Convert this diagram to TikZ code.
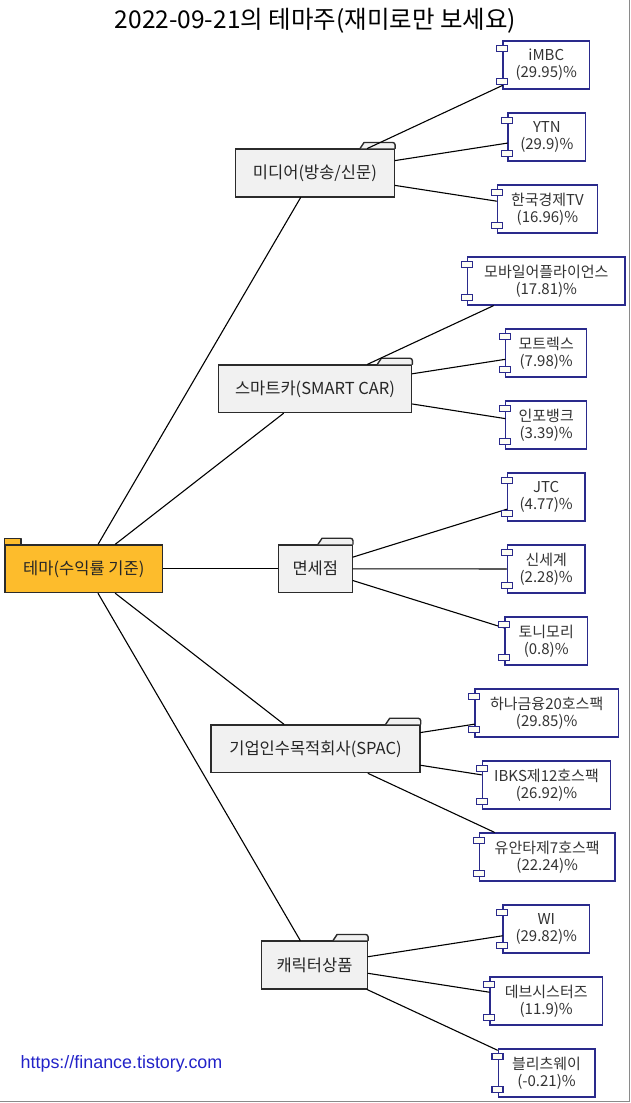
\documentclass[tikz,border=0pt]{standalone}
\usepackage{fontspec}
\setmainfont{Noto Sans CJK KR}
\newfontfamily\urlfont{Liberation Sans}

\definecolor{pkgfill}{HTML}{F1F1F1}
\definecolor{pkgline}{HTML}{2B2B2B}
\definecolor{rootfill}{HTML}{FDBC2C}
\definecolor{compline}{HTML}{2A2A8C}
\definecolor{portfill}{HTML}{FEFEF4}
\definecolor{urlblue}{HTML}{2222C8}
\definecolor{framegray}{HTML}{8A8A8A}

\tikzset{
  pkg/.style={draw=pkgline, fill=pkgfill, line width=1.4pt, inner sep=0pt,
    text=black!85, minimum height=47.7pt, minimum width=#1,
    font=\fontsize{16.5}{19}\selectfont},
  rootpkg/.style={pkg=#1, fill=rootfill},
  pkgtab/.style={draw=pkgline, fill=pkgfill, line width=1.4pt, line join=round},
  comp/.style={draw=compline, fill=white, line width=1.4pt, inner sep=0pt,
    text=black!80, minimum height=48pt, minimum width=#1, align=center,
    font=\fontsize{15}{17}\selectfont},
  port/.style={draw=compline, fill=portfill, line width=1.1pt},
  link/.style={draw=black, line width=1.1pt},
}

\begin{document}
\begin{tikzpicture}[x=1pt, y=-1pt, line cap=round]

  \useasboundingbox (0,0) rectangle (631,1103);

  % title and footer
  \node (title) at (315.5,21) {\fontsize{24.5}{27}\selectfont 2022-09-21의 테마주(재미로만 보세요)};
  \node[text=urlblue] (url) at (121.5,1064) {\urlfont\fontsize{17.9}{20}\selectfont https://finance.tistory.com};

  % root and themes (centres x = 315)
  \node[rootpkg=157.7pt] (root)  at (83.8,568.8)  {테마(수익률 기준)};
  \node[pkg=159pt]       (media) at (314.9,173)   {미디어(방송/신문)};
  \node[pkg=193.4pt]     (smart) at (315,388.8)   {스마트카(SMART CAR)};
  \node[pkg=74pt]        (duty)  at (315.3,568.8) {면세점};
  \node[pkg=209pt]       (spac)  at (315.5,748.8) {기업인수목적회사(SPAC)};
  \node[pkg=105.8pt]     (chara) at (314.5,965)   {캐릭터상품};

  % tabs
  \draw[pkgtab, fill=rootfill] (root.north west) rectangle ++(16.7,-5.7);
  \foreach \p in {media,smart,duty,spac,chara}
    \draw[pkgtab] ([xshift=-35pt]\p.north east) -- ++(4,-6)
      [rounded corners=2.5pt] -- ++(31,0) -- ++(0,6);

  % stocks, 72 apart
  \node[comp=86.5pt]  (imbc)      at (546.3,65)   {iMBC\\(29.95)\%};
  \node[comp=77.5pt]  (ytn)       at (546.8,137)  {YTN\\(29.9)\%};
  \node[comp=99.8pt]  (hkt)       at (547.4,209)  {한국경제TV\\(16.96)\%};
  \node[comp=157.3pt] (mobile)    at (546.3,281)  {모바일어플라이언스\\(17.81)\%};
  \node[comp=81pt]    (motrex)    at (546.2,353)  {모트렉스\\(7.98)\%};
  \node[comp=81pt]    (infobank)  at (546.2,425)  {인포뱅크\\(3.39)\%};
  \node[comp=77.7pt]  (jtc)       at (546.2,497)  {JTC\\(4.77)\%};
  \node[comp=77.7pt]  (shinsegae) at (546.2,569)  {신세계\\(2.28)\%};
  \node[comp=82.3pt]  (tonymoly)  at (546.2,641)  {토니모리\\(0.8)\%};
  \node[comp=143.3pt] (hana)      at (546.7,713)  {하나금융20호스팩\\(29.85)\%};
  \node[comp=128.4pt] (ibks)      at (546.5,785)  {IBKS제12호스팩\\(26.92)\%};
  \node[comp=135.7pt] (yuanta)    at (547.2,857)  {유안타제7호스팩\\(22.24)\%};
  \node[comp=86.5pt]  (wi)        at (546.3,929)  {WI\\(29.82)\%};
  \node[comp=112.4pt] (devsis)    at (546.2,1001) {데브시스터즈\\(11.9)\%};
  \node[comp=96.6pt]  (blitz)     at (546.5,1073) {블리츠웨이\\(-0.21)\%};

  % links
  \foreach \p in {media,smart,duty,spac,chara}
    \draw[link] (root) -- (\p);
  \draw[link] (media) -- (imbc);
  \draw[link] (media) -- (ytn);
  \draw[link] (media) -- (hkt);
  \draw[link] (smart) -- (mobile);
  \draw[link] (smart) -- (motrex);
  \draw[link] (smart) -- (infobank);
  \draw[link] (duty)  -- (jtc);
  \draw[link] (duty)  -- (shinsegae);
  \draw[link] (duty)  -- (tonymoly);
  \draw[link] (spac)  -- (hana);
  \draw[link] (spac)  -- (ibks);
  \draw[link] (spac)  -- (yuanta);
  \draw[link] (chara) -- (wi);
  \draw[link] (chara) -- (devsis);
  \draw[link] (chara) -- (blitz);

  % component ports
  \foreach \c in {imbc,ytn,hkt,mobile,motrex,infobank,jtc,shinsegae,tonymoly,
                  hana,ibks,yuanta,wi,devsis,blitz} {
    \draw[port] ([xshift=-5.5pt,yshift=-5pt]\c.north west) rectangle ++(11,6);
    \draw[port] ([xshift=-5.5pt,yshift=5pt]\c.south west) rectangle ++(11,-6);
  }

  % frame, right and bottom
  \draw[framegray, line width=1.5pt] (629.5,0) -- (629.5,1101.5) -- (0,1101.5);

\end{tikzpicture}
\end{document}
